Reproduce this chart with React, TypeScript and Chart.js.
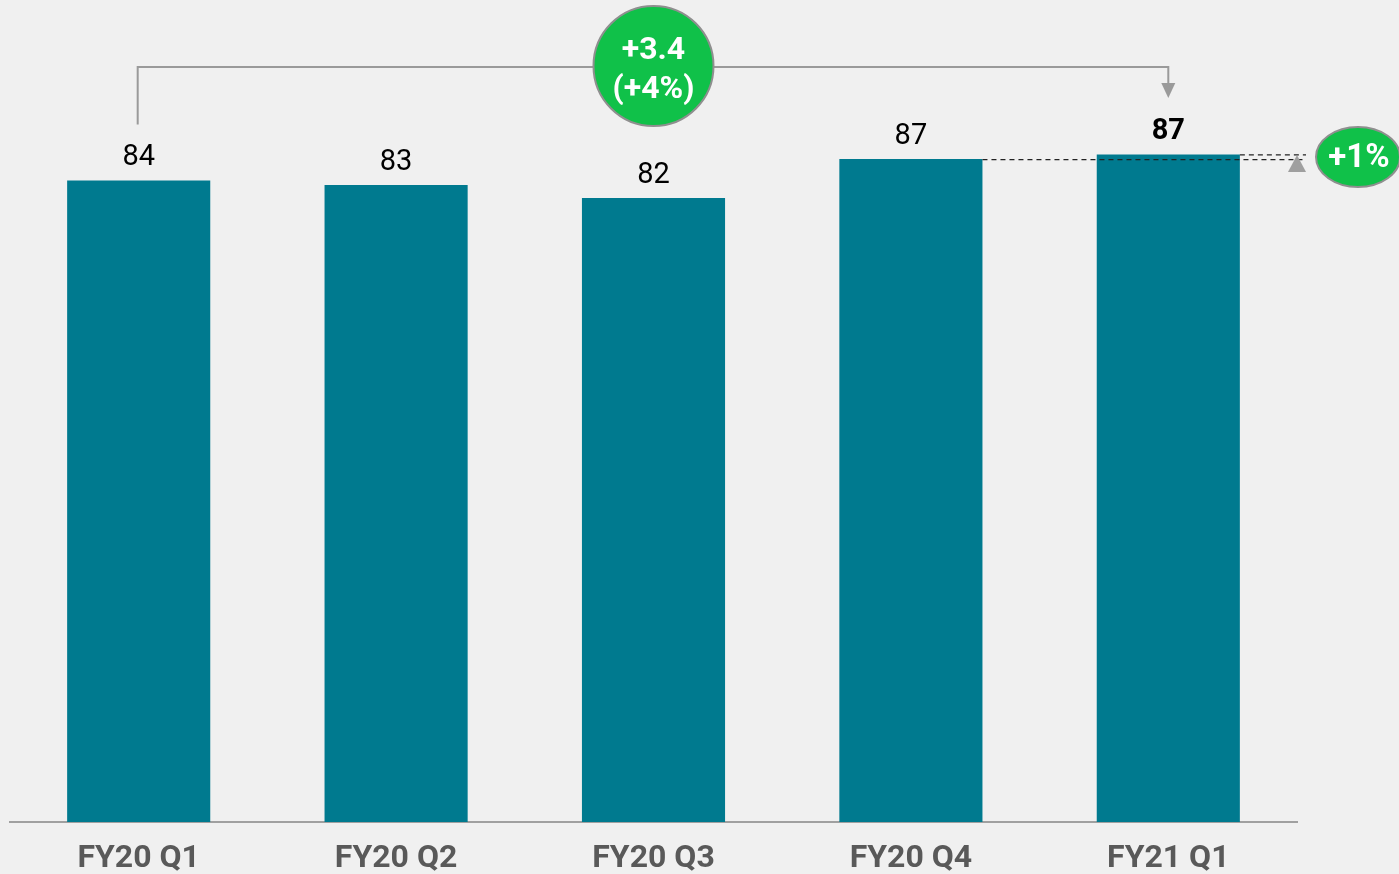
import React, { useEffect, useRef } from "react";
import { Chart, registerables } from "chart.js";

Chart.register(...registerables);

const categories = ["FY20 Q1", "FY20 Q2", "FY20 Q3", "FY20 Q4", "FY21 Q1"];
const revenue = [83.9, 83.3, 81.6, 86.7, 87.3];
const bigBadgeLines = ["+3.4", "(+4%)"];
const smallBadgeText = "+1%";

const BG = "#f0f0f0";
const BAR = "#007a8f";
const GREEN = "#10c149";
const LINE_GRAY = "#9a9a9a";

const annotations = {
  id: "annotations",
  beforeDraw(chart: any) {
    const { ctx } = chart;
    ctx.save();
    ctx.fillStyle = BG;
    ctx.fillRect(0, 0, chart.width, chart.height);
    ctx.restore();
  },
  afterDatasetsDraw(chart: any) {
    const { ctx } = chart;
    const meta = chart.getDatasetMeta(0);
    const els = meta.data;
    ctx.save();
    // value labels
    els.forEach((el: any, i: number) => {
      const last = i === els.length - 1;
      ctx.font = `${last ? "bold " : ""}29px Roboto`;
      ctx.fillStyle = "#000";
      ctx.textAlign = "center";
      ctx.textBaseline = "alphabetic";
      ctx.fillText(String(Math.round(revenue[i])), el.x, el.y - 15);
    });

    // bracket
    const first = els[0];
    const lastEl = els[els.length - 1];
    const mid = els[2];
    const yTop = 67;
    ctx.strokeStyle = LINE_GRAY;
    ctx.lineWidth = 2;
    ctx.beginPath();
    ctx.moveTo(first.x - 1, first.y - 56);
    ctx.lineTo(first.x - 1, yTop);
    ctx.lineTo(lastEl.x, yTop);
    ctx.lineTo(lastEl.x, 84);
    ctx.stroke();
    ctx.fillStyle = LINE_GRAY;
    ctx.beginPath();
    ctx.moveTo(lastEl.x - 7, 83);
    ctx.lineTo(lastEl.x + 7, 83);
    ctx.lineTo(lastEl.x, 98);
    ctx.closePath();
    ctx.fill();

    // big badge
    ctx.beginPath();
    ctx.arc(mid.x, 66, 60, 0, Math.PI * 2);
    ctx.fillStyle = GREEN;
    ctx.fill();
    ctx.strokeStyle = "#8f8f8f";
    ctx.lineWidth = 2;
    ctx.stroke();
    ctx.fillStyle = "#fff";
    ctx.font = "bold 32px Roboto";
    ctx.textAlign = "center";
    ctx.textBaseline = "middle";
    ctx.fillText(bigBadgeLines[0], mid.x, 51);
    ctx.fillText(bigBadgeLines[1], mid.x, 90);

    // dashed comparison lines
    const q4 = els[3];
    const xEnd = 1306;
    ctx.setLineDash([5, 4]);
    ctx.strokeStyle = "#222";
    ctx.lineWidth = 1.2;
    ctx.beginPath();
    ctx.moveTo(q4.x + q4.width / 2, q4.y + 0.5);
    ctx.lineTo(xEnd, q4.y + 0.5);
    ctx.moveTo(lastEl.x + lastEl.width / 2, lastEl.y + 0.5);
    ctx.lineTo(xEnd, lastEl.y + 0.5);
    ctx.stroke();
    ctx.setLineDash([]);

    // small up triangle
    ctx.fillStyle = "#9f9f9f";
    ctx.beginPath();
    ctx.moveTo(1288, 172);
    ctx.lineTo(1306, 172);
    ctx.lineTo(1297, 155);
    ctx.closePath();
    ctx.fill();

    // small badge
    ctx.beginPath();
    ctx.ellipse(1358, 157, 42, 30, 0, 0, Math.PI * 2);
    ctx.fillStyle = GREEN;
    ctx.fill();
    ctx.strokeStyle = "#8f8f8f";
    ctx.lineWidth = 2;
    ctx.stroke();
    ctx.fillStyle = "#fff";
    ctx.font = "bold 33px Roboto";
    ctx.textAlign = "center";
    ctx.textBaseline = "middle";
    ctx.fillText(smallBadgeText, 1359, 159);
    ctx.restore();
  },
};

export default function App() {
  const ref = useRef<HTMLCanvasElement | null>(null);
  useEffect(() => {
    document.body.style.margin = "0";
    document.body.style.background = BG;
    const chart = new Chart(ref.current as HTMLCanvasElement, {
      type: "bar",
      data: {
        labels: categories,
        datasets: [
          {
            data: revenue,
            backgroundColor: BAR,
            categoryPercentage: 1,
            barPercentage: 0.556,
          },
        ],
      },
      options: {
        animation: false,
        responsive: true,
        maintainAspectRatio: false,
        layout: { padding: { left: 10, right: 102, top: 0, bottom: 0 } },
        plugins: { legend: { display: false }, tooltip: { enabled: false } },
        scales: {
          x: {
            grid: { display: false, drawTicks: false },
            border: { display: true, color: "#a0a0a0", width: 2 },
            ticks: {
              color: "#595959",
              font: { family: "Roboto", weight: "bold", size: 32 },
              padding: 18,
              maxRotation: 0,
            },
            afterFit(scale: any) {
              scale.height = 52;
            },
          },
          y: {
            display: false,
            min: 0,
            max: 107.5,
          },
        },
      },
      plugins: [annotations],
    } as any);
    return () => chart.destroy();
  }, []);
  return (
    <div style={{ position: "fixed", left: 0, top: 0, width: 1399, height: 874, background: BG }}>
      <canvas ref={ref} />
    </div>
  );
}
